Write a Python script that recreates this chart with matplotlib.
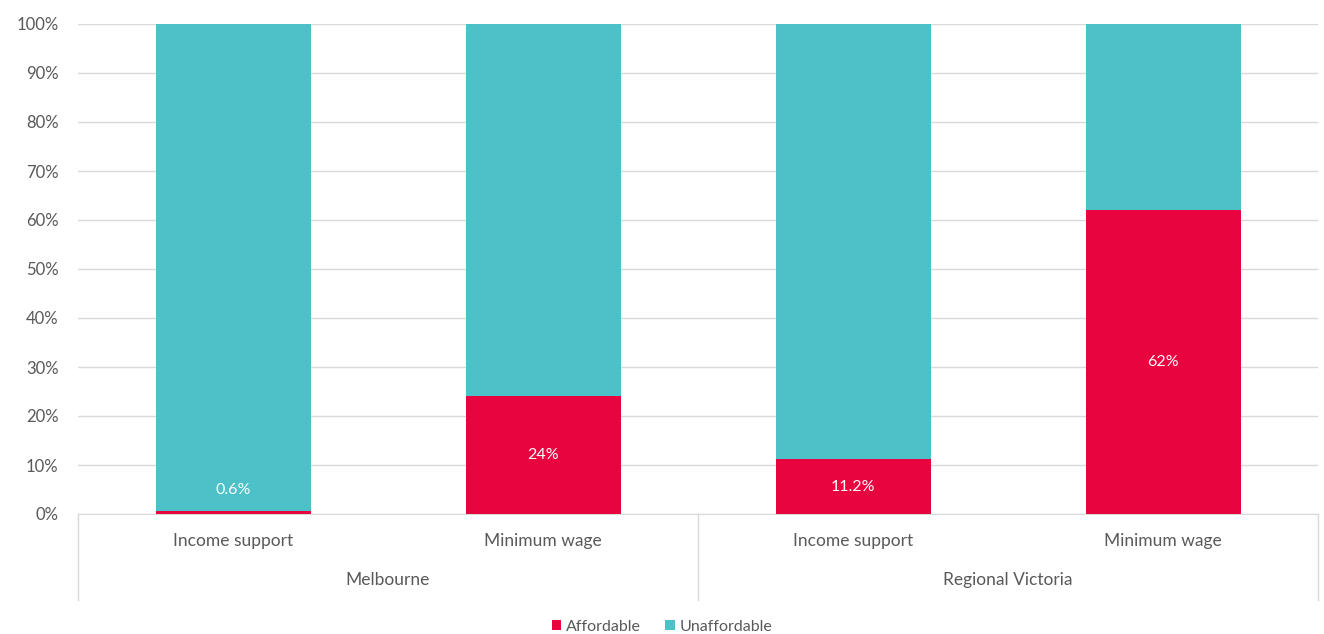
import matplotlib
matplotlib.use("Agg")
import matplotlib.pyplot as plt
import numpy as np

plt.rcParams['font.family'] = ['Lato', 'DejaVu Sans']

# Data
regions = ["Melbourne", "Regional Victoria"]
income_types = ["Income support", "Minimum wage"]
affordable = [0.6, 24, 11.2, 62]
unaffordable = [100 - v for v in affordable]
value_labels = ["0.6%", "24%", "11.2%", "62%"]

RED = "#E8043F"
TEAL = "#4CC1C7"
TEXT = "#595959"
GRID = "#D9D9D9"

fig = plt.figure(figsize=(13.24, 6.34), dpi=100)
ax = fig.add_axes([78 / 1324, 1 - 514 / 634, 1240 / 1324, 490 / 634])

x = np.arange(len(affordable))
ax.bar(x, affordable, width=0.5, color=RED, zorder=3, label="Affordable")
ax.bar(x, unaffordable, width=0.5, bottom=affordable, color=TEAL, zorder=3,
       label="Unaffordable")

# Value labels inside the red segment (or just above it when too thin)
for xi, v, lab in zip(x, affordable, value_labels):
    y = v / 2 if v > 5 else 5
    ax.text(xi, y, lab, ha="center", va="center", color="white",
            fontsize=11.5, zorder=4)

ax.set_xlim(-0.5, len(affordable) - 0.5)
ax.set_ylim(0, 100)
ax.set_yticks(np.arange(0, 101, 10))
ax.set_yticklabels([f"{t}%" for t in range(0, 101, 10)], color=TEXT, fontsize=12)
ax.tick_params(axis="y", length=0, pad=14)
ax.yaxis.grid(True, color=GRID, linewidth=1, zorder=0)
ax.set_axisbelow(True)
for s in ["top", "right", "left"]:
    ax.spines[s].set_visible(False)
ax.spines["bottom"].set_color(GRID)

# Two-level category axis
ax.set_xticks(x)
ax.set_xticklabels(income_types * len(regions), color=TEXT, fontsize=12.5)
ax.tick_params(axis="x", length=0, pad=14)

trans = ax.get_xaxis_transform()
for i, reg in enumerate(regions):
    ax.text(i * 2 + 0.5, -0.135, reg, transform=trans, ha="center", va="center",
            color=TEXT, fontsize=12.5)
for xs in [-0.5, 1.5, 3.5]:
    ax.plot([xs, xs], [0, -0.175], transform=trans, color=GRID, linewidth=1,
            clip_on=False)

leg = fig.legend(loc="lower center", bbox_to_anchor=(0.5, -0.022), ncol=2,
                 frameon=False, fontsize=11.5, handlelength=0.6, handleheight=0.6,
                 handletextpad=0.3, columnspacing=1.5)
for t in leg.get_texts():
    t.set_color(TEXT)

fig.savefig("out.png", dpi=100)
